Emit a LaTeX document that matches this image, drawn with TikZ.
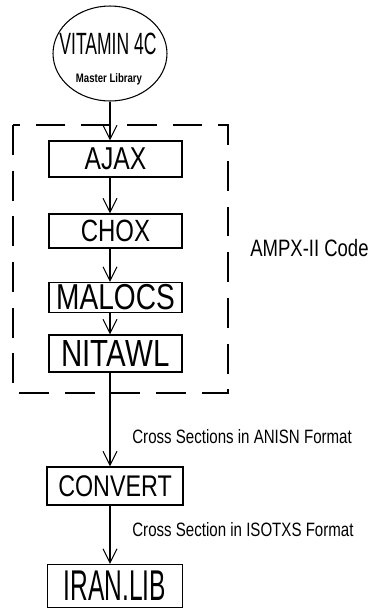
\documentclass[tikz,border=0pt]{standalone}
\usepackage{fontspec}
\newfontfamily\plotfont{Liberation Sans}[FakeStretch=0.78]
\newfontfamily\plotnarrow{Liberation Sans}[FakeStretch=0.57]
\usetikzlibrary{arrows.meta,shapes.geometric}

\begin{document}
\begin{tikzpicture}[x=0.02cm,y=0.02cm]
        \tikzstyle{every node}+=[inner sep=0pt, font=\plotfont]
        \tikzstyle{prog}=[draw, line width=0.6pt, minimum width=2.66cm]
        \tikzstyle{flow}=[line width=0.6pt, -{Straight Barb[length=8pt,width=8pt]}]
        \useasboundingbox (0,0) rectangle (375,-613);
        \node [ellipse, draw, line width=0.6pt, minimum width=2.28cm, minimum height=1.9cm] (vit) at (110,-53.5) {};
        \node (vitname) at (108,-44) {\plotnarrow\fontsize{17.5}{18}\selectfont VITAMIN 4C};
        \node (vitsub) at (109,-79) {\fontsize{7}{7}\selectfont\bfseries Master Library};
        \draw [line width=0.6pt, dash pattern=on 17pt off 9pt] (13,-125) rectangle (228,-393);
        \node [anchor=west] (ampx) at (250,-248) {\fontsize{13.5}{14}\selectfont AMPX-II Code};
        \node [prog, minimum height=0.72cm] (ajax) at (115.5,-159) {\fontsize{18}{18}\selectfont AJAX};
        \node [prog, minimum height=0.68cm] (chox) at (115.5,-231) {\fontsize{17.5}{18}\selectfont CHOX};
        \node [prog, minimum height=0.6cm] (malocs) at (115.5,-297.5) {\fontsize{20.5}{21}\selectfont MALOCS};
        \node [prog, minimum height=0.74cm] (nitawl) at (115.5,-353.5) {\fontsize{21.5}{22}\selectfont NITAWL};
        \node [prog, minimum width=2.72cm, minimum height=0.76cm] (convert) at (115,-486) {\fontsize{17}{18}\selectfont CONVERT};
        \node [prog, minimum width=2.7cm, minimum height=0.86cm] (iranlib) at (115,-586) {\plotnarrow\fontsize{24.5}{25}\selectfont IRAN.LIB};
        \draw [flow] (vit) -- (vit |- ajax.north);
        \draw [flow] (vit |- ajax.south) -- (vit |- chox.north);
        \draw [flow] (vit |- chox.south) -- (vit |- malocs.north);
        \draw [flow] (vit |- malocs.south) -- (vit |- nitawl.north);
        \draw [flow] (vit |- nitawl.south) -- (vit |- convert.north);
        \node [anchor=west] (anisn) at (132,-437) {\fontsize{11}{12}\selectfont Cross Sections in ANISN Format};
        \draw [flow] (vit |- convert.south) -- (vit |- iranlib.north);
        \node [anchor=west] (isotxs) at (132,-530) {\fontsize{11}{12}\selectfont Cross Section in ISOTXS Format};
      \end{tikzpicture}
\end{document}
